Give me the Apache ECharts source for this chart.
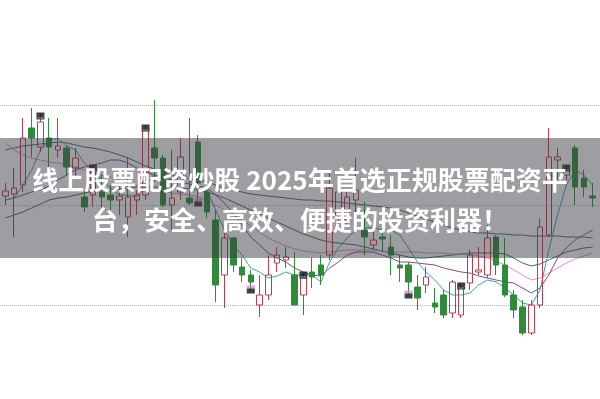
<!DOCTYPE html>
<html><head><meta charset="utf-8">
<script src="https://cdn.jsdelivr.net/npm/echarts@6/dist/echarts.min.js"></script>
<style>html,body{margin:0;padding:0;background:#fff}#c{width:600px;height:399px}</style>
</head><body><div id="c"></div>
<script>
const opens  = [20.9,21.1,22.0,27.7,25.8,26.7,25.5,25.7,23.7,20.8, 21.0,21.3,21.0,20.5,18.8,20.5,21.0,25.7,24.7,20.0, 21.3,20.7,26.3,21.3,18.5,13.0,16.7,13.8,13.0,10.0, 11.0,14.2,14.5,13.0,11.0,13.3,14.0,15.0,19.0,18.5, 20.5,17.5,16.0,16.8,15.8,14.0,14.0,11.8,12.0,10.2, 11.0,9.2,9.0,12.2,13.3,13.0,16.8,14.0,11.0,9.8, 7.2,10.0,17.0,24.5,23.0,25.7,22.7,20.9];
const closes = [21.4,21.7,26.7,26.7,28.3,25.8,25.9,23.8,24.7,19.8, 23.3,20.8,20.5,20.9,20.8,21.0,27.5,24.7,20.0,20.7, 24.8,20.2,22.2,19.3,12.0,16.7,14.0,13.0,12.3,11.0, 13.0,15.0,14.8,10.0,12.7,12.8,13.0,21.7,21.3,20.8, 21.5,16.8,16.5,16.6,15.0,13.7,12.3,10.7,12.8,9.8, 9.0,12.3,11.7,15.0,13.5,16.7,14.0,11.0,9.5,7.2, 10.0,17.8,24.8,24.8,23.5,21.8,21.8,20.7];
const lows   = [20.0,16.8,21.3,24.8,25.3,22.7,24.7,23.0,22.8,19.3, 19.8,19.5,18.5,19.0,16.8,19.0,20.5,22.3,19.8,17.5, 20.5,20.0,20.2,18.7,10.3,9.7,13.3,12.3,11.5,8.8, 10.5,13.3,13.7,10.0,9.0,11.7,12.0,14.5,17.8,18.0, 19.0,15.0,15.5,15.3,13.0,12.3,11.0,9.5,11.2,9.2, 8.7,8.7,8.7,11.5,13.0,12.7,13.0,10.8,8.7,7.0, 7.0,9.7,16.8,22.3,22.0,20.0,20.8,19.8];
const highs  = [22.2,23.7,28.7,29.7,29.2,28.7,28.7,26.0,25.7,21.3, 24.0,23.0,22.0,22.0,24.8,21.5,28.0,30.5,25.0,25.5, 26.7,28.7,27.0,22.0,19.5,17.2,16.8,14.7,13.5,13.0, 15.0,15.8,15.8,15.3,13.3,14.7,15.0,23.3,22.5,21.5, 24.7,20.3,19.0,17.8,17.0,15.0,14.3,13.0,13.8,11.7, 11.5,12.5,12.2,15.5,15.8,18.0,17.0,16.7,11.5,10.5, 10.5,18.7,27.7,25.7,24.0,26.0,23.5,22.2];
const ma5  = [20.5,20.7,22.0,23.5,25.5,26.5,26.7,25.9,25.5,24.2, 23.5,22.5,21.7,21.0,21.0,20.8,22.0,23.0,22.8,22.7, 23.5,22.5,21.5,21.5,19.5,17.5,16.0,15.0,13.7,13.3, 12.7,12.9,13.3,13.0,13.0,13.0,12.3,14.3,15.7,16.7, 17.5,17.7,17.7,17.5,17.5,17.0,15.7,14.3,13.3,12.5, 11.5,11.0,11.0,11.2,12.0,12.5,12.3,11.7,11.0,10.2, 10.0,11.5,15.5,19.0,22.0,23.5,23.0,22.0];
const ma10 = [20.5,20.7,21.0,21.3,21.5,21.9,22.5,23.0,23.5,23.8, 24.0,24.2,24.5,24.5,24.2,23.7,23.3,23.0,22.7,22.5, 22.3,22.1,21.9,21.7,21.0,20.2,19.2,18.0,16.8,16.0, 15.2,14.7,14.3,13.7,13.3,13.0,12.9,13.7,14.3,15.0, 15.3,15.3,15.3,15.0,14.7,14.3,14.3,14.2,14.1,14.0, 13.7,13.5,13.3,13.2,12.9,12.7,12.5,12.3,12.2,11.7, 11.2,11.7,13.0,14.7,15.7,16.5,17.0,17.5];
const ma20 = [26.2,25.5,25.0,24.7,24.5,24.3,24.2,24.0,23.8,23.5, 23.3,23.0,22.8,22.5,22.2,22.0,21.8,21.6,21.4,21.2, 21.1,21.0,20.8,20.5,20.0,19.5,19.0,18.5,17.9,17.3, 16.7,16.3,15.9,15.6,15.4,15.3,15.2,15.3,15.4,15.5, 15.5,15.5,15.5,15.4,15.3,15.3,15.3,15.3,15.2,15.2, 15.2,15.1,15.1,15.1,14.9,14.7,14.4,14.0,13.5,13.0, 12.5,12.7,13.2,13.7,14.2,14.6,14.9,15.2];
const ma30 = [18.7,19.0,19.3,19.7,20.1,20.5,20.7,20.8,21.0,21.2, 21.4,21.5,21.5,21.6,21.7,21.8,21.8,21.8,21.8,21.7, 21.7,21.6,21.5,21.3,21.0,20.7,20.3,19.9,19.5,19.1, 18.7,18.3,17.9,17.5,17.1,16.8,16.5,16.3,16.2,16.1, 16.0,15.8,15.6,15.4,15.2,15.0,14.8,14.7,14.7,14.8, 14.9,15.0,15.1,15.2,15.2,15.2,15.2,15.1,14.7,14.2, 13.9,14.1,14.5,14.9,15.3,15.5,15.7,15.8];
const ma60 = [25.5,25.7,25.9,26.0,26.1,26.2,26.3,26.2,26.0,25.8, 25.7,25.5,25.3,25.0,24.7,24.3,23.9,23.6,23.3,23.0, 22.8,22.6,22.5,22.3,22.0,21.7,21.5,21.3,21.1,21.0, 20.9,20.8,20.7,20.6,20.5,20.5,20.4,20.4,20.3,20.2, 20.1,20.0,19.9,19.8,19.7,19.5,19.2,18.9,18.6,18.3, 18.0,17.7,17.5,17.3,17.2,17.2,17.1,17.1,17.0,17.0, 16.9,16.9,16.9,16.9,16.8,16.8,16.8,16.7];
const categories = opens.map((_, i) => String(i + 1));
const gridTicks = [10, 20, 30];
const highMarkIdx = [4, 10, 16, 34, 52, 64];
const lowMarkIdx = [22, 28, 46, 58];
const titleLine1 = '线上股票配资炒股 2025年首选正规股票配资平';
const titleLine2 = '台，安全、高效、便捷的投资利器！';

const chart = echarts.init(document.getElementById('c'));
const candleData = opens.map((o, i) => [o, closes[i], lows[i], highs[i]]);
const lineS = (data, color) => ({type:'line', data, xAxisIndex:0, yAxisIndex:0, showSymbol:false, clip:false, smooth:false, lineStyle:{width:1, color}, z:3});
chart.setOption({
  animation:false,
  grid:[{left:1, width:596, top:105, height:200}, {left:0, right:0, top:105, height:200}],
  xAxis:[{type:'category', data:categories, gridIndex:0, show:false, boundaryGap:true},
         {type:'category', data:['x'], gridIndex:1, axisLine:{show:false}, axisTick:{show:false}, axisLabel:{show:false}}],
  yAxis:[{gridIndex:0, min:gridTicks[0], max:gridTicks[2], interval:10, show:false, splitLine:{show:false}},
         {gridIndex:1, min:gridTicks[0], max:gridTicks[2], interval:10, axisLine:{show:false}, axisTick:{show:false}, axisLabel:{show:false},
          splitLine:{show:true, lineStyle:{type:'dotted', color:'#b8b8b8', width:1}}}],
  series:[
    lineS(ma60, '#4d6a72'),
    lineS(ma30, '#3d7446'),
    lineS(ma20, '#e08cd6'),
    lineS(ma10, '#874a86'),
    lineS(ma5, '#3aa3ab'),
    {type:'candlestick', data:candleData, xAxisIndex:0, yAxisIndex:0, barWidth:6, clip:false, z:4,
     itemStyle:{color:'rgba(0,0,0,0)', color0:'#2e8b37', borderColor:'#bd3d49', borderColor0:'#2e8b37', borderWidth:1}},
    {type:'scatter', data:highMarkIdx.map(i => [i, highs[i]]), symbol:'rect', symbolSize:[8,7], symbolOffset:[0,3], itemStyle:{color:'#111'}, z:6},
    {type:'scatter', data:highMarkIdx.map(i => [i, highs[i]]), symbol:'rect', symbolSize:[6,1], symbolOffset:[0,5], itemStyle:{color:'#5fd0d0'}, z:7},
    {type:'scatter', data:lowMarkIdx.map(i => [i, lows[i]]), symbol:'rect', symbolSize:[8,3], symbolOffset:[0,-3], itemStyle:{color:'#d98ad0'}, z:6},
    {type:'scatter', data:lowMarkIdx.map(i => [i, lows[i]]), symbol:'rect', symbolSize:[8,5], symbolOffset:[0,1], itemStyle:{color:'#111'}, z:6}
  ],
  graphic:[
    {type:'rect', shape:{x:0, y:138, width:600, height:120}, style:{fill:'rgba(60,60,70,0.5)'}, z:100},
    {type:'text', x:300, y:180, z:101, style:{text:titleLine1, fill:'#fff', fontSize:26, fontWeight:'bold', fontFamily:'"Noto Sans CJK SC"', align:'center', verticalAlign:'middle'}},
    {type:'text', x:300, y:220, z:101, style:{text:titleLine2, fill:'#fff', fontSize:26, fontWeight:'bold', fontFamily:'"Noto Sans CJK SC"', align:'center', verticalAlign:'middle'}}
  ]
});
</script></body></html>
